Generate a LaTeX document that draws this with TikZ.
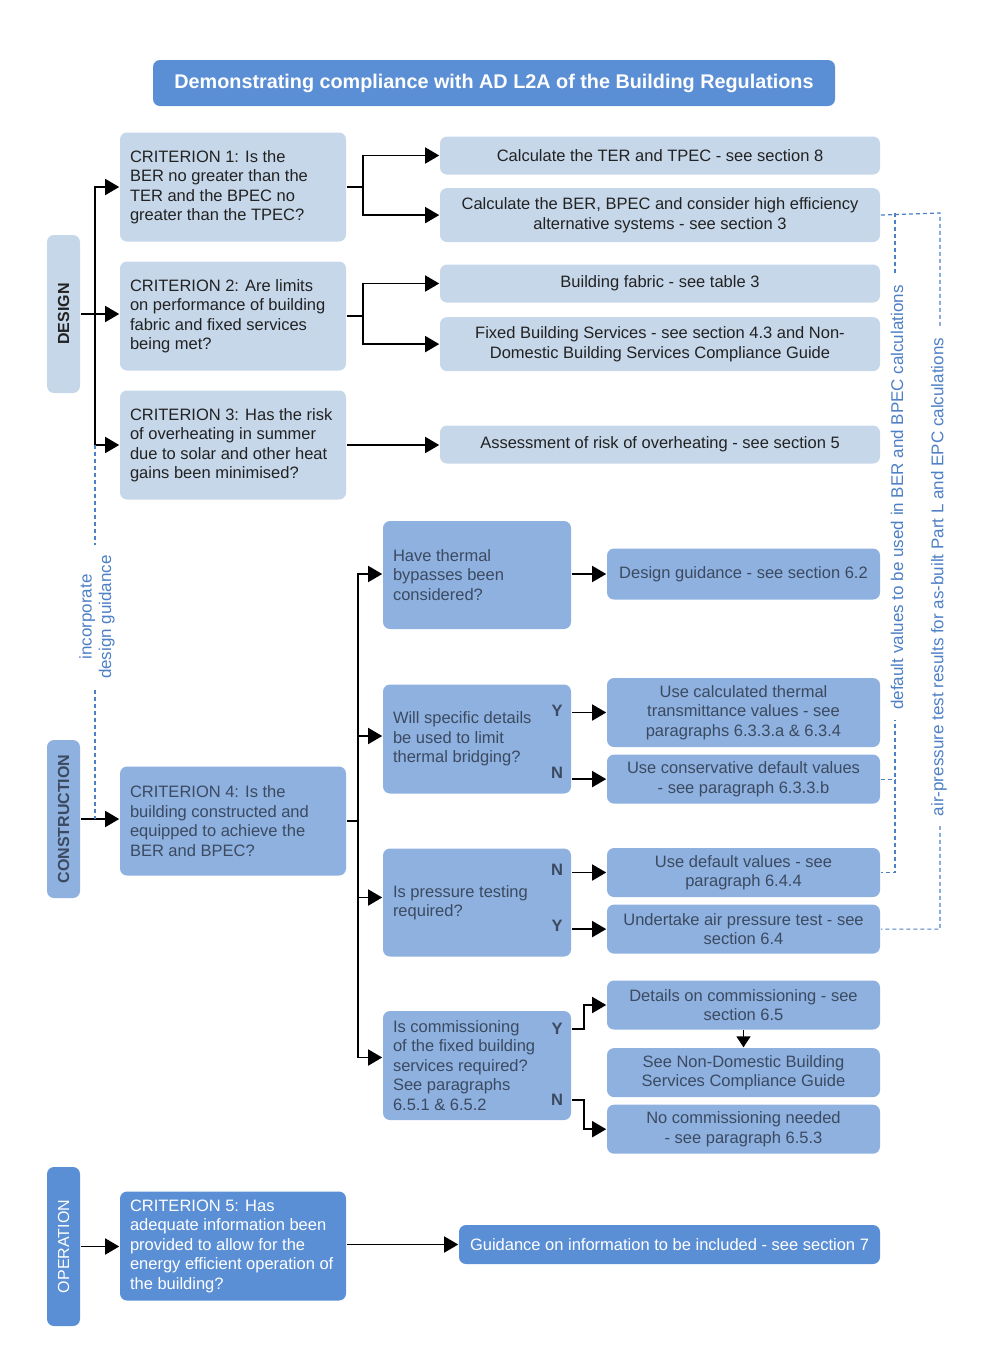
\documentclass[tikz,border=0pt]{standalone}
\usepackage{fontspec}
\setmainfont{Liberation Sans}
\usetikzlibrary{arrows.meta,positioning}
\definecolor{lightblue}{HTML}{C6D7EA}
\definecolor{midblue}{HTML}{8FB1E0}
\definecolor{darkblue}{HTML}{5B8FD5}
\definecolor{guideblue}{HTML}{4E80C6}
\definecolor{textdark}{HTML}{222222}
\definecolor{textmid}{HTML}{3B4A60}

\begin{document}
\begin{tikzpicture}[x=1pt,y=-1pt,>={Triangle[length=14pt,width=16pt]},line width=1.6pt,
    font=\fontsize{16.5}{19.5}\selectfont,
    box/.style={rectangle,rounded corners=7pt,inner sep=0pt},
    light node/.style={box,fill=lightblue,text=textdark},
    mid node/.style={box,fill=midblue,text=textmid},
    dark node/.style={box,fill=darkblue,text=white},
    crit node/.style={text width=206pt,inner xsep=10pt,align=flush left,minimum height=109pt},
    quest node/.style={mid node,text width=168pt,inner xsep=10pt,align=flush left,minimum height=108pt},
    res node/.style={light node,align=center,minimum width=440pt},
    ans node/.style={mid node,align=center,minimum width=273pt,minimum height=49pt},
    phase node/.style={box,rotate=90,minimum width=158pt,minimum height=33pt},
    yn/.style={text=textmid,font=\bfseries\fontsize{16.5}{19.5}\selectfont,inner sep=0pt},
    guide line/.style={draw=guideblue,line width=1.2pt,dash pattern=on 4pt off 3pt},
    guide text/.style={text=guideblue,fill=white,rotate=90,inner xsep=10pt,inner ysep=1pt,
      align=center,font=\fontsize{17}{19.5}\selectfont}]

  \useasboundingbox (0,0) rectangle (989,1361);

  \node[dark node,minimum width=682pt,minimum height=46pt,font=\bfseries\fontsize{19.8}{22}\selectfont]
    (title) at (494,83) {Demonstrating compliance with AD L2A of the Building Regulations};

  % phases (rotated, so their right side is .south)
  \node[phase node,fill=lightblue,text=textdark,font=\bfseries\fontsize{16}{19}\selectfont] (design) at (63.5,314) {DESIGN};
  \node[phase node,fill=midblue,text=textmid,font=\bfseries\fontsize{16}{19}\selectfont] (construction) at (63.5,819) {CONSTRUCTION};
  \node[phase node,fill=darkblue,text=white,minimum width=159pt,font=\fontsize{16}{19}\selectfont] (operation) at (63.5,1246.5) {OPERATION};

  % criteria
  \node[light node,crit node] (c1) at (233,187) {CRITERION 1: Is the\\BER no greater than the\\TER and the BPEC no\\greater than the TPEC?};
  \node[light node,crit node] (c2) at (233,316) {CRITERION 2: Are limits\\on performance of building\\fabric and fixed services\\being met?};
  \node[light node,crit node] (c3) at (233,445) {CRITERION 3: Has the risk\\of overheating in summer\\due to solar and other heat\\gains been minimised?};
  \node[mid node,crit node] (c4) at (233,821) {CRITERION 4: Is the\\building constructed and\\equipped to achieve the\\BER and BPEC?};
  \node[dark node,crit node] (c5) at (233,1246) {CRITERION 5: Has\\adequate information been\\provided to allow for the\\energy efficient operation of\\the building?};

  % design results
  \node[res node,minimum height=38pt] (r1) at (660,155.5) {Calculate the TER and TPEC - see section 8};
  \node[res node,minimum height=54pt] (r2) [below=12pt of r1] {Calculate the BER, BPEC and consider high efficiency\\alternative systems - see section 3};
  \node[res node,minimum height=38pt] (r3) at (660,283.5) {Building fabric - see table 3};
  \node[res node,minimum height=54pt] (r4) [below=13pt of r3] {Fixed Building Services - see section 4.3 and Non-\\Domestic Building Services Compliance Guide};
  \node[res node,minimum height=38pt] (r5) at (660,444.5) {Assessment of risk of overheating - see section 5};

  % construction questions
  \node[quest node] (q1) at (477,575) {Have thermal\\bypasses been\\considered?};
  \node[quest node,minimum height=109pt] (q2) at (477,739) {Will specific details\\be used to limit\\thermal bridging?};
  \node[quest node] (q3) at (477,902.5) {Is pressure testing\\required?};
  \node[quest node,minimum height=109pt] (q4) at (477,1065.5) {Is commissioning\\of the fixed building\\services required?\\See paragraphs\\6.5.1 \& 6.5.2};

  \node[yn] (q2y) at (557,711) {Y};
  \node[yn] (q2n) at (557,773) {N};
  \node[yn] (q3n) at (557,870) {N};
  \node[yn] (q3y) at (557,926) {Y};
  \node[yn] (q4y) at (557,1029) {Y};
  \node[yn] (q4n) at (557,1100) {N};

  % construction answers
  \node[ans node,minimum height=51pt] (a1) at (743.5,574) {Design guidance - see section 6.2};
  \node[ans node,minimum height=69pt] (a2) at (743.5,712.5) {Use calculated thermal\\transmittance values - see\\paragraphs 6.3.3.a \& 6.3.4};
  \node[ans node] (a3) [below=6pt of a2] {Use conservative default values\\- see paragraph 6.3.3.b};
  \node[ans node] (a4) at (743.5,872.5) {Use default values - see\\paragraph 6.4.4};
  \node[ans node] (a5) [below=6pt of a4] {Undertake air pressure test - see\\section 6.4};
  \node[ans node] (a6) at (743.5,1005) {Details on commissioning - see\\section 6.5};
  \node[ans node] (a7) [below=17pt of a6] {See Non-Domestic Building\\Services Compliance Guide};
  \node[ans node] (a8) [below=6pt of a7] {No commissioning needed\\- see paragraph 6.5.3};

  \node[dark node,minimum width=421pt,minimum height=39pt] (g) at (669.5,1244.5) {Guidance on information to be included - see section 7};

  % trunks
  \coordinate (dt) at (95,315);
  \coordinate (ct) at (358,821);
  \coordinate (dv1) at (895,213);
  \coordinate (dv2) at (940,213);

  \draw[->] (design.south) -- (design.south -| c2.west);
  \draw[->] (dt) |- (c1.west);
  \draw[->] (dt) |- (c3.west);
  \draw (c1.east) -- ++(16,0) coordinate (b1);
  \draw[->] (b1) |- (r1.west);
  \draw[->] (b1) |- (r2.west);
  \draw (c2.east) -- ++(16,0) coordinate (b2);
  \draw[->] (b2) |- (r3.west);
  \draw[->] (b2) |- (r4.west);
  \draw[->] (c3.east) -- (c3.east -| r5.west);

  \draw[->] (construction.south) -- (construction.south -| c4.west);
  \draw (c4.east) -- (c4.east -| ct);
  \draw[->] (ct) |- ([yshift=1pt]q1.west);
  \draw[->] (ct) |- ([yshift=3pt]q2.west);
  \draw[->] (ct) |- ([yshift=5pt]q3.west);
  \draw[->] (ct) |- ([yshift=8pt]q4.west);
  \draw[->] (q1.east |- a1.west) -- (a1.west);
  \draw[->] (q2.east |- a2.west) -- (a2.west);
  \draw[->] (q2.east |- a3.west) -- (a3.west);
  \draw[->] (q3.east |- a4.west) -- (a4.west);
  \draw[->] (q3.east |- a5.west) -- (a5.west);
  \draw[->] (q4.east |- q4y) -- ++(12,0) |- (a6.west);
  \draw[->] (q4.east |- q4n) -- ++(12,0) |- (a8.west);
  \draw[-{Triangle[length=11pt,width=14pt]}] (a6.south) -- (a7.north);

  \draw[->] (operation.south) -- (operation.south -| c5.west);
  \draw[->] (c5.east |- g.west) -- (g.west);

  % dashed links
  \draw[guide line] (dt |- c3.west) -- (dt |- construction.south);
  \draw[guide line] (r2.east) -- (dv2) |- (a5.east);
  \draw[guide line] (dv1) |- (a4.east);
  \draw[guide line] (a3.east) -- (a3.east -| dv1);

  \node[guide text] (incl) at (97,617) {incorporate\\design guidance};
  \node[guide text] (defl) at (897,497.5) {default values to be used in BER and BPEC calculations};
  \node[guide text] (airl) at (939,577) {air-pressure test results for as-built Part L and EPC calculations};

\end{tikzpicture}
\end{document}
